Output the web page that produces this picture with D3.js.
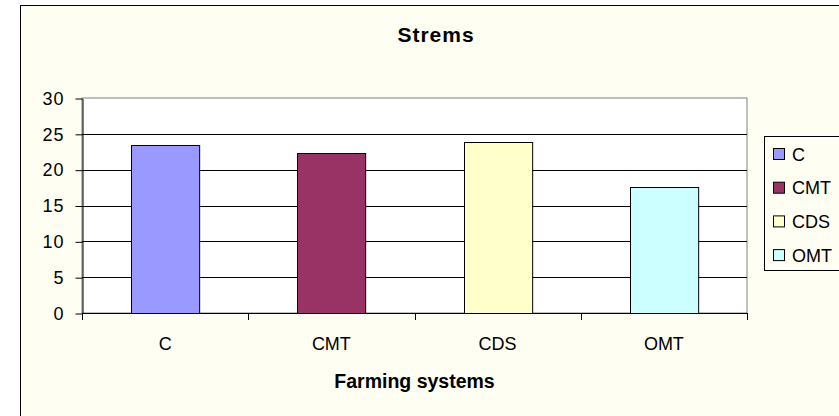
<!DOCTYPE html>
<html>
<head>
<meta charset="utf-8">
<script src="https://cdn.jsdelivr.net/npm/d3@7"></script>
<style>
  body { margin: 0; background: #fff; }
  svg { display: block; font-family: "Liberation Sans", Arial, sans-serif; }
</style>
</head>
<body>
<svg id="canvas" width="839" height="416"></svg>
<script>
let categories = ['C', 'CMT', 'CDS', 'OMT']
let values = [23.4, 22.3, 23.9, 17.6]
let colors = ['#9999ff', '#993366', '#ffffcc', '#ccffff']
let yTicks = [0, 5, 10, 15, 20, 25, 30]

let chartTitle = 'Strems'
let xTitle = 'Farming systems'

let canvas = d3.select('#canvas')

// chart area background + frame
canvas.append('rect')
      .attr('x', 20.5)
      .attr('y', 5.5)
      .attr('width', 840)
      .attr('height', 420)
      .attr('fill', '#fefef2')
      .attr('stroke', '#000')

let plot = { left: 82, top: 98, right: 747, bottom: 313 }

let xScale = d3.scaleBand()
               .domain(categories)
               .range([plot.left, plot.right])
               .paddingInner(0.59)
               .paddingOuter(0.295)

let yScale = d3.scaleLinear()
               .domain([0, 30])
               .range([plot.bottom, plot.top])

// plot area
canvas.append('rect')
      .attr('x', plot.left)
      .attr('y', plot.top)
      .attr('width', plot.right - plot.left)
      .attr('height', plot.bottom - plot.top)
      .attr('fill', '#fff')
      .attr('stroke', '#808080')

// gridlines
canvas.append('g')
      .selectAll('line')
      .data(yTicks.filter((t) => t > 0 && t < 30))
      .enter()
      .append('line')
      .attr('x1', plot.left)
      .attr('x2', plot.right)
      .attr('y1', (t) => Math.round(yScale(t)) + 0.5)
      .attr('y2', (t) => Math.round(yScale(t)) + 0.5)
      .attr('stroke', '#000')

// bars
canvas.append('g')
      .selectAll('rect')
      .data(values)
      .enter()
      .append('rect')
      .attr('x', (d, i) => Math.round(xScale(categories[i])) + 0.5)
      .attr('y', (d) => Math.round(yScale(d)) + 0.5)
      .attr('width', xScale.bandwidth())
      .attr('height', (d) => Math.round(yScale(0)) - Math.round(yScale(d)))
      .attr('fill', (d, i) => colors[i])
      .attr('stroke', '#000')
      .attr('stroke-width', 1)

// y axis
let yAxis = d3.axisLeft(yScale)
              .tickValues(yTicks)
              .tickSize(7)
              .tickPadding(11)
              .tickSizeOuter(0)

let yG = canvas.append('g')
      .attr('transform', 'translate(' + (plot.left + 0.5) + ',0.5)')
      .call(yAxis)
yG.selectAll('text')
  .style('font-size', '18px')
  .style('letter-spacing', '1px')
  .attr('font-family', null)
  .attr('fill', '#000')
yG.selectAll('line, path').attr('stroke', '#000')

// x axis: ticks between categories
let xEdges = categories.map((c) => xScale(c) - xScale.step() * xScale.paddingOuter())
xEdges.push(plot.right)

let xG = canvas.append('g')
xG.append('line')
  .attr('x1', plot.left)
  .attr('x2', plot.right)
  .attr('y1', plot.bottom + 0.5)
  .attr('y2', plot.bottom + 0.5)
  .attr('stroke', '#000')
xG.selectAll('.tk')
  .data(xEdges)
  .enter()
  .append('line')
  .attr('x1', (d) => Math.round(d) + 0.5)
  .attr('x2', (d) => Math.round(d) + 0.5)
  .attr('y1', plot.bottom)
  .attr('y2', plot.bottom + 7)
  .attr('stroke', '#000')
xG.selectAll('text')
  .data(categories)
  .enter()
  .append('text')
  .attr('x', (c) => xScale(c) + xScale.bandwidth() / 2)
  .attr('y', 350)
  .attr('text-anchor', 'middle')
  .style('font-size', '18px')
  .text((c) => c)

// titles
canvas.append('text')
      .attr('x', 436)
      .attr('y', 42)
      .attr('text-anchor', 'middle')
      .style('font-size', '21px')
      .style('letter-spacing', '1px')
      .style('font-weight', 'bold')
      .text(chartTitle)

canvas.append('text')
      .attr('x', (plot.left + plot.right) / 2)
      .attr('y', 388)
      .attr('text-anchor', 'middle')
      .style('font-size', '19.5px')
      .style('font-weight', 'bold')
      .text(xTitle)

// legend
let legend = canvas.append('g')
legend.append('rect')
      .attr('x', 764.5)
      .attr('y', 136.5)
      .attr('width', 100)
      .attr('height', 134)
      .attr('fill', '#fefef2')
      .attr('stroke', '#000')

let item = legend.selectAll('.item')
      .data(categories)
      .enter()
      .append('g')
      .attr('transform', (c, i) => 'translate(773,' + (154 + i * 33.7) + ')')
item.append('rect')
    .attr('x', 0.5)
    .attr('y', -5.5)
    .attr('width', 11)
    .attr('height', 11)
    .attr('fill', (c, i) => colors[i])
    .attr('stroke', '#000')
item.append('text')
    .attr('x', 19)
    .attr('y', 6.5)
    .style('font-size', '18px')
    .text((c) => c)
</script>
</body>
</html>
